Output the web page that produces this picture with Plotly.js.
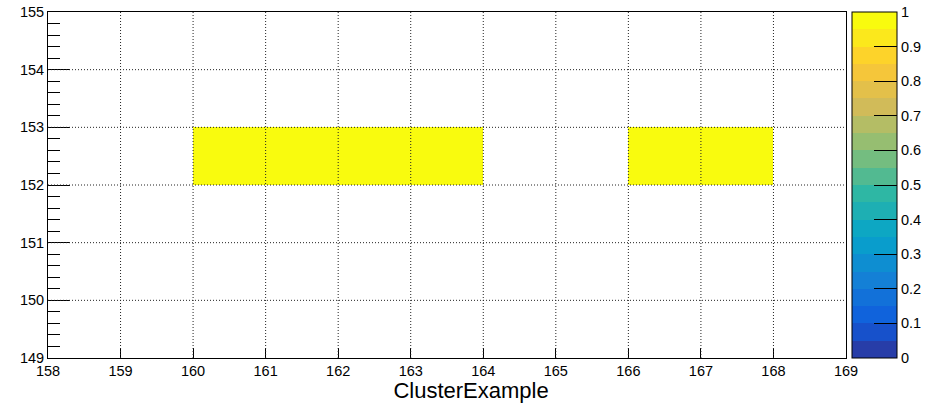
<!DOCTYPE html>
<html>
<head>
<meta charset="utf-8">
<script src="https://cdn.plot.ly/plotly-3.0.1.min.js"></script>
<style>html,body{margin:0;padding:0;background:#fff;}#chart{width:952px;height:408px;}</style>
</head>
<body>
<div id="chart"></div>
<script>
// ---- data ----
var xEdges = [158,159,160,161,162,163,164,165,166,167,168,169];
var yEdges = [149,150,151,152,153,154,155];
// filled bins (lower edges of x and y bins) and their contents
var filledX = [160,161,162,163,166,167];
var filledY = [152,152,152,152,152,152];
var filledV = [1,1,1,1,1,1];
var xTicks = [158,159,160,161,162,163,164,165,166,167,168,169];
var yTicks = [149,150,151,152,153,154,155];
var cbTicks = [0,0.1,0.2,0.3,0.4,0.5,0.6,0.7,0.8,0.9,1];
var cbLabels = ["0","0.1","0.2","0.3","0.4","0.5","0.6","0.7","0.8","0.9","1"];
var titleText = "ClusterExample";

// build z grid from filled bins
var z = [];
for (var j = 0; j < yEdges.length - 1; j++) {
  var row = [];
  for (var i = 0; i < xEdges.length - 1; i++) row.push(null);
  z.push(row);
}
for (var k = 0; k < filledX.length; k++) {
  var ci = xEdges.indexOf(filledX[k]);
  var rj = yEdges.indexOf(filledY[k]);
  z[rj][ci] = filledV[k];
}

// ROOT kBird palette, 20 contour bands
var st = [0.0000,0.1250,0.2500,0.3750,0.5000,0.6250,0.7500,0.8750,1.0000];
var rr = [0.2082,0.0592,0.0780,0.0232,0.1802,0.5301,0.8186,0.9956,0.9764];
var gg = [0.1664,0.3599,0.5041,0.6419,0.7178,0.7492,0.7328,0.7862,0.9832];
var bb = [0.5293,0.8684,0.8385,0.7914,0.6425,0.4662,0.3499,0.1968,0.0539];
function pal(t){
  for (var s = 0; s < st.length - 1; s++) {
    if (t <= st[s+1]) {
      var f = (t - st[s]) / (st[s+1] - st[s]);
      var c = function(a){ return Math.round(255*(a[s] + f*(a[s+1]-a[s]))); };
      return 'rgb(' + c(rr) + ',' + c(gg) + ',' + c(bb) + ')';
    }
  }
  return 'rgb(249,251,14)';
}
var nBands = 20, nCol = 255;
var cs = [];
for (var b = 0; b < nBands; b++) {
  var idx = Math.floor((b + 0.99) * nCol / nBands);
  if (idx > nCol - 1) idx = nCol - 1;
  var col = pal(idx / (nCol - 1));
  cs.push([b / nBands, col]);
  cs.push([(b + 1) / nBands, col]);
}

var font = {family: 'Liberation Sans, Arial, Helvetica, sans-serif', size: 14.5, color: '#000'};

// dotted grid drawn above the cells, as in ROOT
var shapes = [];
xTicks.slice(1, -1).forEach(function(v){
  shapes.push({type:'line', xref:'x', yref:'paper', x0:v, x1:v, y0:0, y1:1, layer:'above',
    line:{color:'#222', width:1, dash:'1px,2px'}});
});
yTicks.slice(1, -1).forEach(function(v){
  shapes.push({type:'line', xref:'paper', yref:'y', x0:0, x1:1, y0:v, y1:v, layer:'above',
    line:{color:'#222', width:1, dash:'1px,2px'}});
});

var trace = {
  type: 'heatmap',
  x: xEdges, y: yEdges, z: z,
  zmin: 0, zmax: 1, zauto: false,
  colorscale: cs,
  hoverongaps: false,
  colorbar: {
    x: 1.0075, xanchor: 'left', xpad: 0, ypad: 0,
    y: 0.5, yanchor: 'middle', len: 1, lenmode: 'fraction',
    thickness: 45, thicknessmode: 'pixels',
    outlinewidth: 1, outlinecolor: '#000',
    tickmode: 'array', tickvals: cbTicks, ticktext: cbLabels,
    ticks: 'inside', ticklen: 23, tickwidth: 1, tickcolor: '#000',
    tickfont: font
  }
};

var layout = {
  width: 952, height: 408,
  margin: {l: 48, r: 106, t: 12, b: 50, autoexpand: false},
  paper_bgcolor: '#fff', plot_bgcolor: '#fff',
  showlegend: false,
  title: {text: titleText, x: 0.4948, xref: 'container', xanchor: 'center',
          y: 1 - 390/408, yref: 'container', yanchor: 'middle',
          font: {family: 'Liberation Sans, Arial, Helvetica, sans-serif', size: 22, color: '#000'}},
  xaxis: {
    range: [158, 169], showgrid: false, zeroline: false,
    showline: true, linecolor: '#000', linewidth: 1, mirror: true,
    tickmode: 'array', tickvals: xTicks, ticktext: xTicks.map(String),
    ticks: 'inside', ticklen: 10, tickcolor: '#000', tickwidth: 1,
    tickfont: font
  },
  yaxis: {
    range: [149, 155], showgrid: false, zeroline: false,
    showline: true, linecolor: '#000', linewidth: 1, mirror: true,
    tickmode: 'array', tickvals: yTicks, ticktext: yTicks.map(String),
    ticks: 'inside', ticklen: 22, tickcolor: '#000', tickwidth: 1,
    minor: {dtick: 0.2, ticks: 'inside', ticklen: 12, tickcolor: '#000', tickwidth: 1, showgrid: false},
    tickfont: font
  },
  shapes: shapes
};

Plotly.newPlot('chart', [trace], layout, {displayModeBar: false, staticPlot: true});
</script>
</body>
</html>
